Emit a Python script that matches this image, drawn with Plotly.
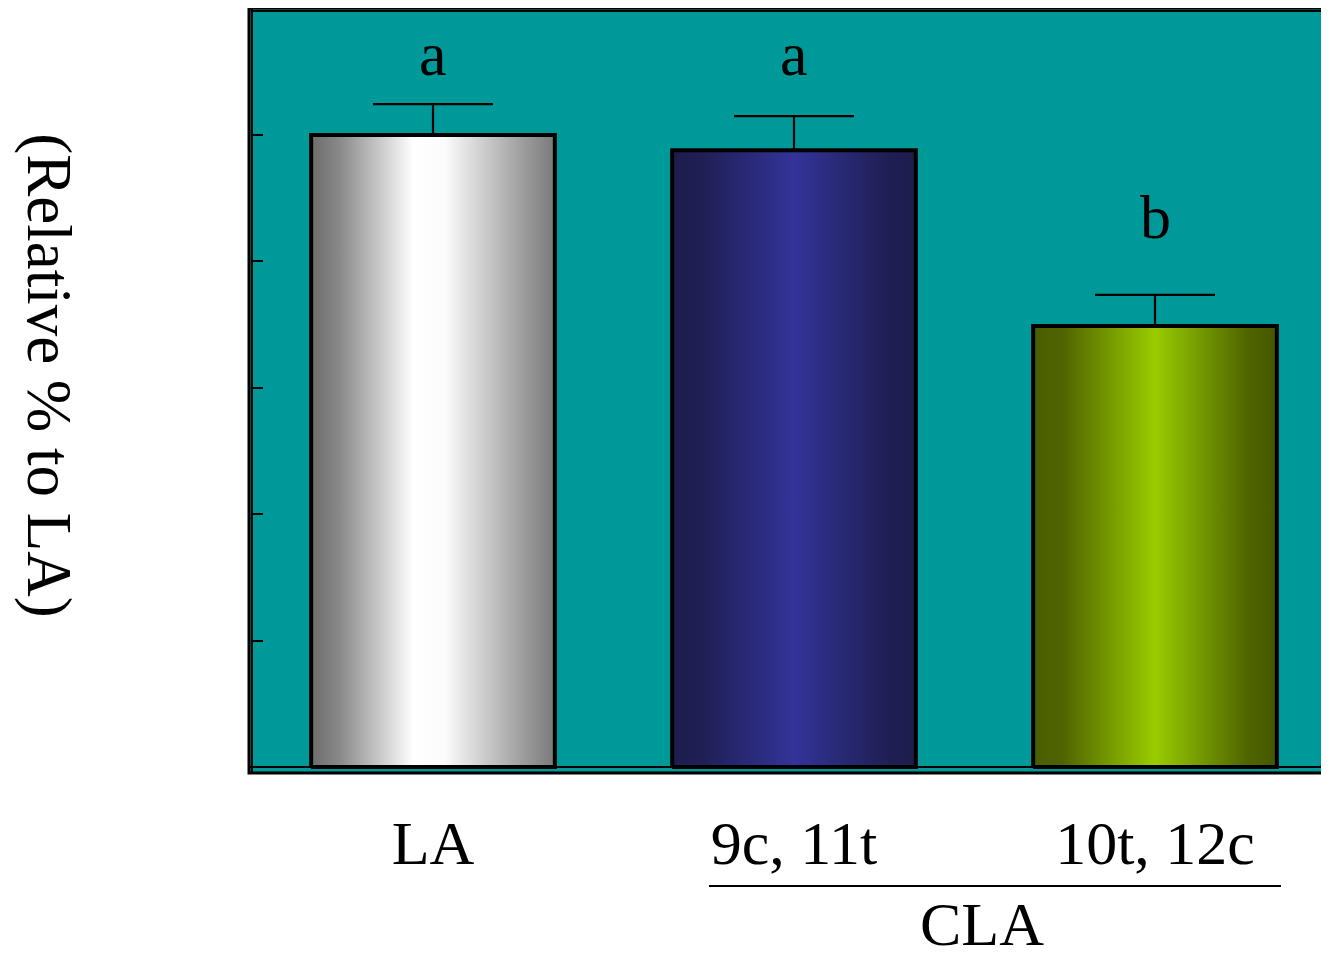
import plotly.graph_objects as go

# ---- data ----
categories = ["LA", "9c, 11t", "10t, 12c"]
values = [100.0, 97.6, 69.8]
errors = [4.9, 5.4, 4.9]
sig_letters = ["a", "a", "b"]
y_tick_values = [0, 20, 40, 60, 80, 100]

# ---- style ----
SERIF = "Liberation Serif, Times New Roman, serif"
BG = "#009999"
bar_width = 0.675
gradients = [
    [[0, "#6c6c6c"], [0.12, "#8a8a8a"], [0.42, "#ffffff"], [0.55, "#fbfbfb"], [0.88, "#9a9a9a"], [1, "#7a7a7a"]],
    [[0, "#1c1c4c"], [0.12, "#1f1f55"], [0.5, "#333399"], [0.88, "#1f1f55"], [1, "#1c1c4c"]],
    [[0, "#4a5e00"], [0.12, "#4f6400"], [0.5, "#99cc00"], [0.88, "#4f6400"], [1, "#465800"]],
]
label_y = [112.8, 112.8, 87.0]

positions = list(range(len(categories)))

fig = go.Figure()

# invisible bars carrying the error bars
fig.add_trace(go.Bar(
    x=positions, y=values, width=bar_width,
    marker=dict(color="rgba(0,0,0,0)", line=dict(width=0)),
    error_y=dict(type="data", array=errors, symmetric=False, arrayminus=[0] * len(values),
                 color="black", thickness=2.2, width=60),
    showlegend=False, hoverinfo="skip",
))

# gradient-filled bar bodies derived from the same values
for i, (pos, val) in enumerate(zip(positions, values)):
    x0, x1 = pos - bar_width / 2, pos + bar_width / 2
    fig.add_trace(go.Scatter(
        x=[x0, x0, x1, x1, x0], y=[0, val, val, 0, 0],
        mode="lines", fill="toself",
        fillgradient=dict(type="horizontal", colorscale=gradients[i]),
        line=dict(color="black", width=4),
        showlegend=False, name=categories[i],
        hovertemplate=f"{categories[i]}: {val}<extra></extra>",
    ))

annotations = []
for pos, txt, ly in zip(positions, sig_letters, label_y):
    annotations.append(dict(x=pos, y=ly, xref="x", yref="y", text=txt, showarrow=False,
                            font=dict(family=SERIF, size=62, color="black"), yanchor="middle"))

annotations.append(dict(x=(49 - 249) / 1080, y=0.52, xref="paper", yref="paper", text="(Relative % to LA)",
                        textangle=90, showarrow=False, xanchor="center", yanchor="middle",
                        font=dict(family=SERIF, size=63, color="black")))
annotations.append(dict(x=(982 - 249) / 1080, y=(773 - 924) / 765, xref="paper", yref="paper",
                        text="CLA", showarrow=False, xanchor="center", yanchor="middle",
                        font=dict(family=SERIF, size=62, color="black")))

shapes = [
    # outer frame
    dict(type="rect", xref="paper", yref="paper", x0=0, x1=1.01, y0=0, y1=1,
         line=dict(color="black", width=3), layer="above"),
    # inner top line
    dict(type="line", xref="paper", yref="paper", x0=0.0028, x1=1.01, y0=0.996, y1=0.996,
         line=dict(color="black", width=2), layer="above"),
    # CLA bracket line
    dict(type="line", xref="paper", yref="paper", x0=(709 - 249) / 1080, x1=(1281 - 249) / 1080,
         y0=(773 - 886) / 765, y1=(773 - 886) / 765, line=dict(color="black", width=2)),
]

# page body has an 8px margin, so the figure is offset by 8px
fig.update_layout(
    width=1321, height=953,
    margin=dict(l=241, r=0, t=0, b=188),
    paper_bgcolor="white", plot_bgcolor=BG,
    xaxis=dict(range=[-0.5097, 2.482], tickvals=positions, ticktext=categories,
               showgrid=False, zeroline=False, showline=False, ticks="",
               tickfont=dict(family=SERIF, size=62, color="black"), ticklabelstandoff=28,
               fixedrange=True),
    yaxis=dict(range=[-0.95, 120.1], tickvals=y_tick_values, showticklabels=False,
               ticks="inside", ticklen=10, tickwidth=2, tickcolor="black",
               showgrid=False, zeroline=True, zerolinecolor="black", zerolinewidth=2,
               showline=True, linecolor="black", linewidth=2,
               anchor="free", position=0.0028, fixedrange=True),
    annotations=annotations, shapes=shapes,
    bargap=0.3, showlegend=False,
)

fig.write_html("out.html")
